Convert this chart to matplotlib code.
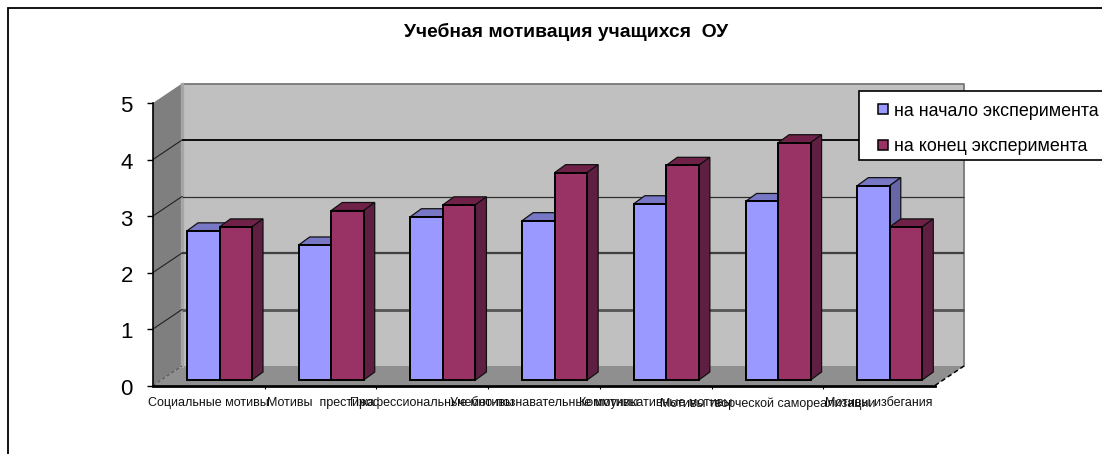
import matplotlib
matplotlib.use("Agg")
import matplotlib.pyplot as plt
from matplotlib.lines import Line2D
from matplotlib.patches import Polygon, Rectangle
from matplotlib.transforms import ScaledTranslation

categories = ["Социальные мотивы", "Мотивы  престижа", "Профессиональные мотивы",
              "Учебно-познавательные мотивы", "Коммуникативные мотивы",
              "Мотивы творческой самореализации", "Мотивы избегания"]
start_values = [2.64, 2.39, 2.89, 2.82, 3.12, 3.16, 3.44]
end_values = [2.71, 3.00, 3.10, 3.67, 3.80, 4.20, 2.71]
series_names = ["на начало эксперимента", "на конец эксперимента"]
title_text = "Учебная мотивация учащихся  ОУ"
value_ticks = [0, 1, 2, 3, 4, 5]

W, H = 1102, 454
plt.rcParams["font.family"] = ["Liberation Sans", "DejaVu Sans"]
fig = plt.figure(figsize=(W / 100, H / 100), dpi=100, facecolor="white")

# front plane of the 3-D plot, in pixels
L, R, T, B = 153.0, 935.0, 103.0, 385.5
ax = fig.add_axes([L / W, 1 - B / H, (R - L) / W, (B - T) / H])
ax.set_xlim(0, len(categories))
ax.set_ylim(0, value_ticks[-1])
ax.patch.set_visible(False)
px_x = len(categories) / (R - L)
px_y = value_ticks[-1] / (B - T)

# outer frame runs off the image on the right and bottom
frame_top = 1 - 7.5 / H
fig.add_artist(Rectangle((8 / W, -0.2), 1.2, frame_top + 0.2, transform=fig.transFigure,
                         fill=False, edgecolor="black", linewidth=1.3))

ymax = value_ticks[-1]
nx = len(categories)
DX, DY = 29 * px_x, 19.5 * px_y


def poly(points, zorder, **kw):
    ax.add_patch(Polygon(points, closed=True, clip_on=False, zorder=zorder, **kw))


# walls and floor
poly([(DX, DY), (nx + DX, DY), (nx + DX, ymax + DY), (DX, ymax + DY)], 1,
     facecolor="#C0C0C0", edgecolor="none")
poly([(0, 0), (DX, DY), (DX, ymax + DY), (0, ymax)], 1, facecolor="#7F7F7F", edgecolor="none")
poly([(0, 0), (nx, 0), (nx + DX, DY), (DX, DY)], 1, facecolor="#8F8F8F", edgecolor="none")
ax.plot([DX, nx + DX, nx + DX], [ymax + DY, ymax + DY, DY], color="#777777", lw=1.3,
        clip_on=False, zorder=1.5)
ax.plot([DX, DX], [DY, ymax + DY], color="#A6A6A6", lw=2.4, clip_on=False, zorder=1.5)

# gridlines: back wall and side wall
grid_styles = {1: ("#555555", 2.0), 2: ("#404040", 1.6), 3: ("#303030", 0.9),
               4: ("#000000", 1.3), 5: ("#777777", 0.0)}
for v in value_ticks[1:-1]:
    c, lw = grid_styles[v]
    ax.plot([DX, nx + DX], [v + DY, v + DY], color=c, lw=lw, clip_on=False, zorder=2,
            solid_capstyle="butt")
    ax.plot([0, DX], [v, v + DY], color="#222222", lw=0.8, clip_on=False, zorder=2)
ax.plot([0, DX], [0, DY], color="#555555", lw=0.8, ls=(0, (3, 2)), clip_on=False, zorder=2)
ax.plot([nx, nx + DX], [0, DY], color="black", lw=1.1, ls=(0, (3, 2)), clip_on=False, zorder=2)

# bars
bar_w = 32.5 * px_x
first = 34 * px_x
base = 5.5 * px_y
bdx, bdy = 11 * px_x, 8 * px_y
EDGE = 1.4


def bar3d(x, v, front, top, side, z):
    ax.bar(x, v, width=bar_w, bottom=base, align="edge", color=front, edgecolor="black",
           linewidth=EDGE, zorder=z + 0.2, clip_on=False)
    y0, y1 = base, base + v
    x1 = x + bar_w
    poly([(x, y1), (x1, y1), (x1 + bdx, y1 + bdy), (x + bdx, y1 + bdy)], z,
         facecolor=top, edgecolor="#111111", linewidth=0.9)
    poly([(x1, y0), (x1 + bdx, y0 + bdy), (x1 + bdx, y1 + bdy), (x1, y1)], z,
         facecolor=side, edgecolor="#111111", linewidth=0.9)


for i, (a, b) in enumerate(zip(start_values, end_values)):
    bar3d(i + first, a, "#9999FF", "#7777C6", "#6666A8", 3 + i)
    bar3d(i + first + bar_w, b, "#993366", "#6F2148", "#5E1F40", 3.5 + i)

# axes
for s in ("top", "right"):
    ax.spines[s].set_visible(False)
ax.spines["left"].set_linewidth(1.2)
ax.spines["bottom"].set_linewidth(2.0)
ax.spines["left"].set_zorder(20)
ax.spines["bottom"].set_zorder(20)
ax.set_yticks(value_ticks)
ax.set_yticklabels([str(v) for v in value_ticks], fontsize=16)
ax.tick_params(axis="y", length=4.5, width=1.0, pad=10)
down = ScaledTranslation(0, -1.5 / 100, fig.dpi_scale_trans)
for lab in ax.get_yticklabels():
    lab.set_transform(lab.get_transform() + down)
ax.set_xticks(range(1, nx))
ax.set_xticklabels([])
ax.tick_params(axis="x", which="major", length=2, width=0.8)
ax.set_xticks([i + 0.5 for i in range(nx)], minor=True)
ax.set_xticklabels(categories, minor=True, fontsize=9.0, color="#111111")
ax.tick_params(axis="x", which="minor", length=0, pad=8.6)

fig.text(566 / W, 1 - 32 / H, title_text, ha="center", va="center", fontsize=13.85,
         fontweight="bold", color="black")

# legend box runs off the image on the right
fig.add_artist(Rectangle((859 / W, 1 - 160 / H), 0.4, 69.5 / H, transform=fig.transFigure,
                         facecolor="white", edgecolor="black", linewidth=1.2, zorder=29))
handles = [Line2D([], [], ls="none", marker="s", ms=6.8, mfc="#9999FF", mec="black", mew=1.1),
           Line2D([], [], ls="none", marker="s", ms=6.8, mfc="#993366", mec="black", mew=1.1)]
fs = 12.9
px_em = fs * 100 / 72
leg = fig.legend(handles, series_names, loc="upper left",
                 bbox_to_anchor=(859 / W, 1 - 95.5 / H), borderaxespad=0, fontsize=fs,
                 frameon=False, numpoints=1, handlelength=34 / px_em,
                 handletextpad=-6 / px_em, borderpad=7 / px_em, labelspacing=1.02)
leg.set_zorder(30)

fig.savefig("out.png", dpi=100, facecolor="white")
